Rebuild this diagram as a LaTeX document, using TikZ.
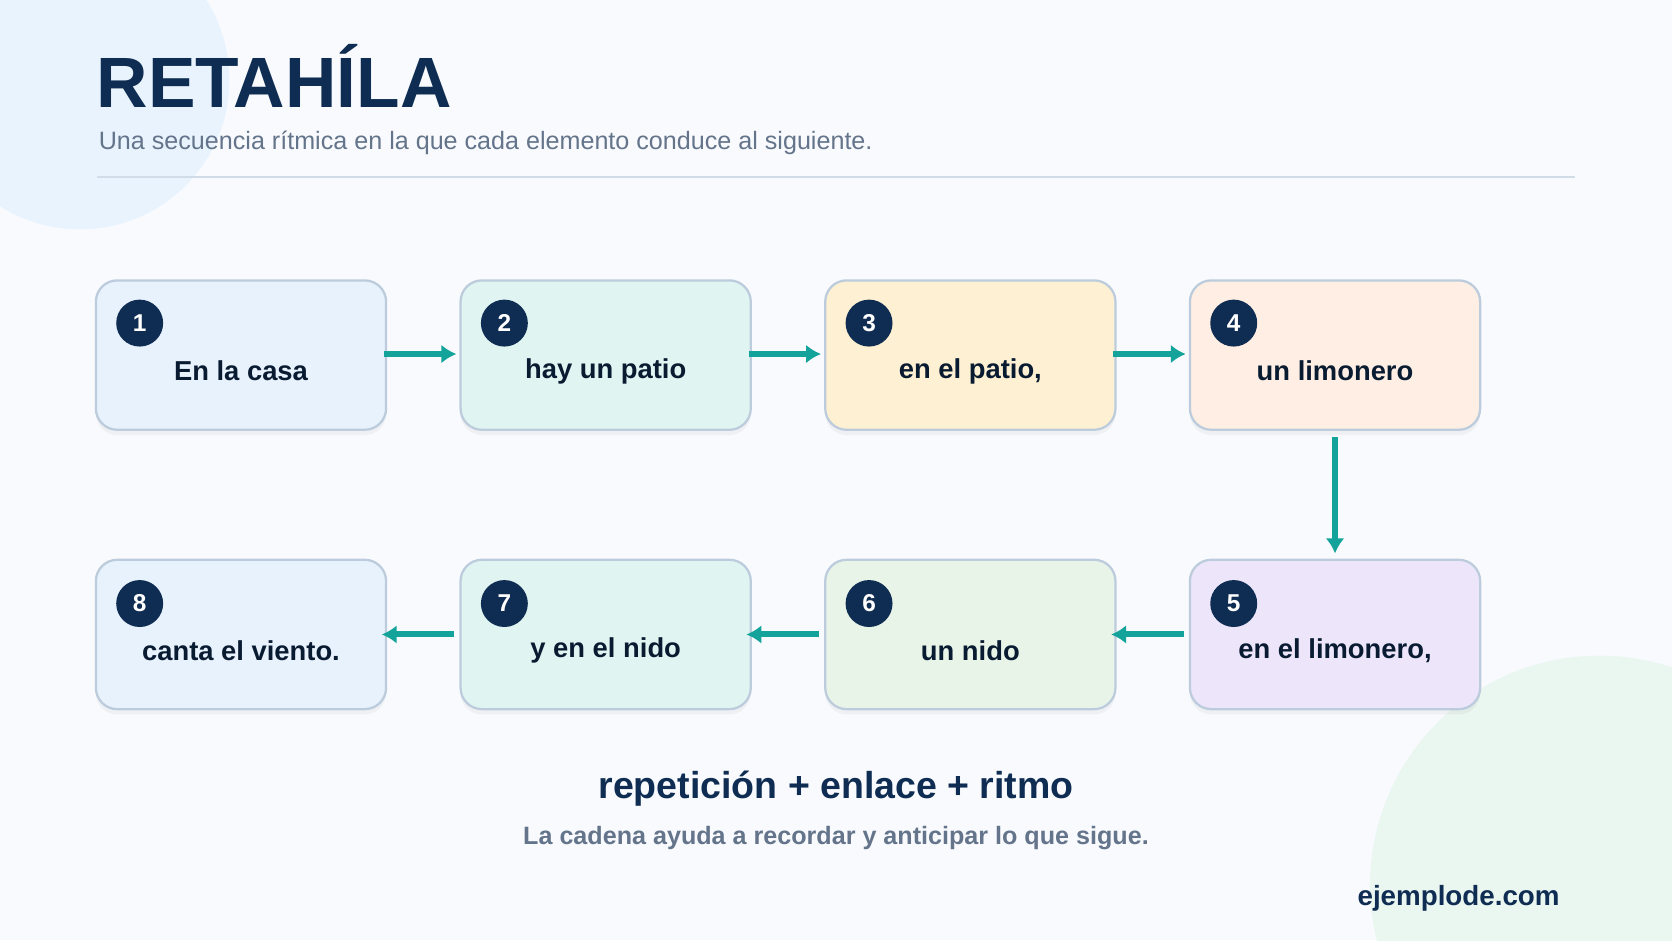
\documentclass[tikz,border=0pt]{standalone}
\usepackage{fontspec}
\setmainfont{Liberation Sans}
\usetikzlibrary{shadows,arrows.meta}
\definecolor{navy}{HTML}{0F2D52}
\definecolor{teal2}{HTML}{14A39A}
\definecolor{greytxt}{HTML}{64748B}
\definecolor{edge}{HTML}{BCCCDC}
\definecolor{cA}{HTML}{E8F2FD}\definecolor{cB}{HTML}{E0F5F2}\definecolor{cC}{HTML}{FEF0D2}
\definecolor{cD}{HTML}{FEEEE3}\definecolor{cE}{HTML}{EDE6FB}\definecolor{cF}{HTML}{E8F4E8}
\tikzset{
  card/.style={draw=edge, line width=0.6pt, rounded corners=0.2cm, minimum width=2.72cm, minimum height=1.4cm, inner sep=0pt, drop shadow={opacity=0.08, shadow xshift=0pt, shadow yshift=-0.05cm}},
  num/.style={circle, fill=navy, minimum size=0.44cm, inner sep=0pt, text=white, font=\fontsize{6.5}{7}\selectfont\bfseries},
  word/.style={font=\fontsize{7.3}{8}\selectfont\bfseries, text=navy!60!black},
  link/.style={draw=teal2, line width=1.6pt, -{Latex[length=4pt,width=5pt]}}
}
\begin{document}
\begin{tikzpicture}[x=0.01cm, y=-0.01cm]
                \fill[color={rgb,255:red,248;green,250;blue,253}] (0,0) rectangle (1568,882);
                \begin{scope}
                    \clip (0,0) rectangle (1568,882);
                    \fill[color={rgb,255:red,232;green,243;blue,253}] (75,75) circle (1.4cm);
                    \fill[color={rgb,255:red,234;green,246;blue,240}] (1500,830) circle (2.15cm);
                \end{scope}
                \useasboundingbox (0,0) rectangle (1568,882);

                \node[anchor=base west, text=navy, font=\fontsize{19}{20}\selectfont\bfseries, inner sep=0pt] (title) at (90,101) {RETAHÍLA};
                \node[anchor=base west, text=greytxt, font=\fontsize{6.7}{8}\selectfont, inner sep=0pt] (sub) at (92,140) {Una secuencia rítmica en la que cada elemento conduce al siguiente.};
                \draw[color={rgb,255:red,208;green,220;blue,232}, line width=0.6pt] (91,166) -- (1477,166);

                \node[card, fill=cA] (box1) at (226,333) {}; \node[card, fill=cB] (box2) at (568,333) {}; \node[card, fill=cC] (box3) at (910,333) {}; \node[card, fill=cD] (box4) at (1252,333) {};
                \node[card, fill=cA] (box8) at (226,595) {}; \node[card, fill=cB] (box7) at (568,595) {}; \node[card, fill=cF] (box6) at (910,595) {}; \node[card, fill=cE] (box5) at (1252,595) {};

                \node[num] (num1) at (131,303) {1}; \node[num] (num2) at (473,303) {2}; \node[num] (num3) at (815,303) {3}; \node[num] (num4) at (1157,303) {4};
                \node[num] (num8) at (131,566) {8}; \node[num] (num7) at (473,566) {7}; \node[num] (num6) at (815,566) {6}; \node[num] (num5) at (1157,566) {5};

                \node[word] (w1) at (226,348) {En la casa}; \node[word] (w2) at (568,348) {hay un patio}; \node[word] (w3) at (910,348) {en el patio,}; \node[word] (w4) at (1252,348) {un limonero};
                \node[word] (w8) at (226,610) {canta el viento.}; \node[word] (w7) at (568,610) {y en el nido}; \node[word] (w6) at (910,610) {un nido}; \node[word] (w5) at (1252,610) {en el limonero,};

                \coordinate (a1) at (360,332); \coordinate (a2) at (702,332); \coordinate (a3) at (1044,332);
                \coordinate (b1) at (428,332); \coordinate (b2) at (770,332); \coordinate (b3) at (1112,332);
                \coordinate (c5) at (1110,595); \coordinate (c6) at (768,595); \coordinate (c7) at (426,595);
                \coordinate (d5) at (1042,595); \coordinate (d6) at (700,595); \coordinate (d7) at (358,595);
                \coordinate (v1) at (1252,410); \coordinate (v2) at (1252,519);

                \draw[link] (a1) to (b1); \draw[link] (a2) to (b2); \draw[link] (a3) to (b3);
                \draw[link] (v1) to (v2);
                \draw[link] (c5) to (d5); \draw[link] (c6) to (d6); \draw[link] (c7) to (d7);

                \node[text=navy, font=\fontsize{10}{12}\selectfont\bfseries] (motto) at (784,740) {repetición + enlace + ritmo};
                \node[text=greytxt, font=\fontsize{6.7}{8}\selectfont\bfseries] (note) at (784,786) {La cadena ayuda a recordar y anticipar lo que sigue.};
                \node[anchor=east, text=navy, font=\fontsize{7.4}{8}\selectfont\bfseries] (site) at (1475,842) {ejemplode.com};
            \end{tikzpicture}
\end{document}
